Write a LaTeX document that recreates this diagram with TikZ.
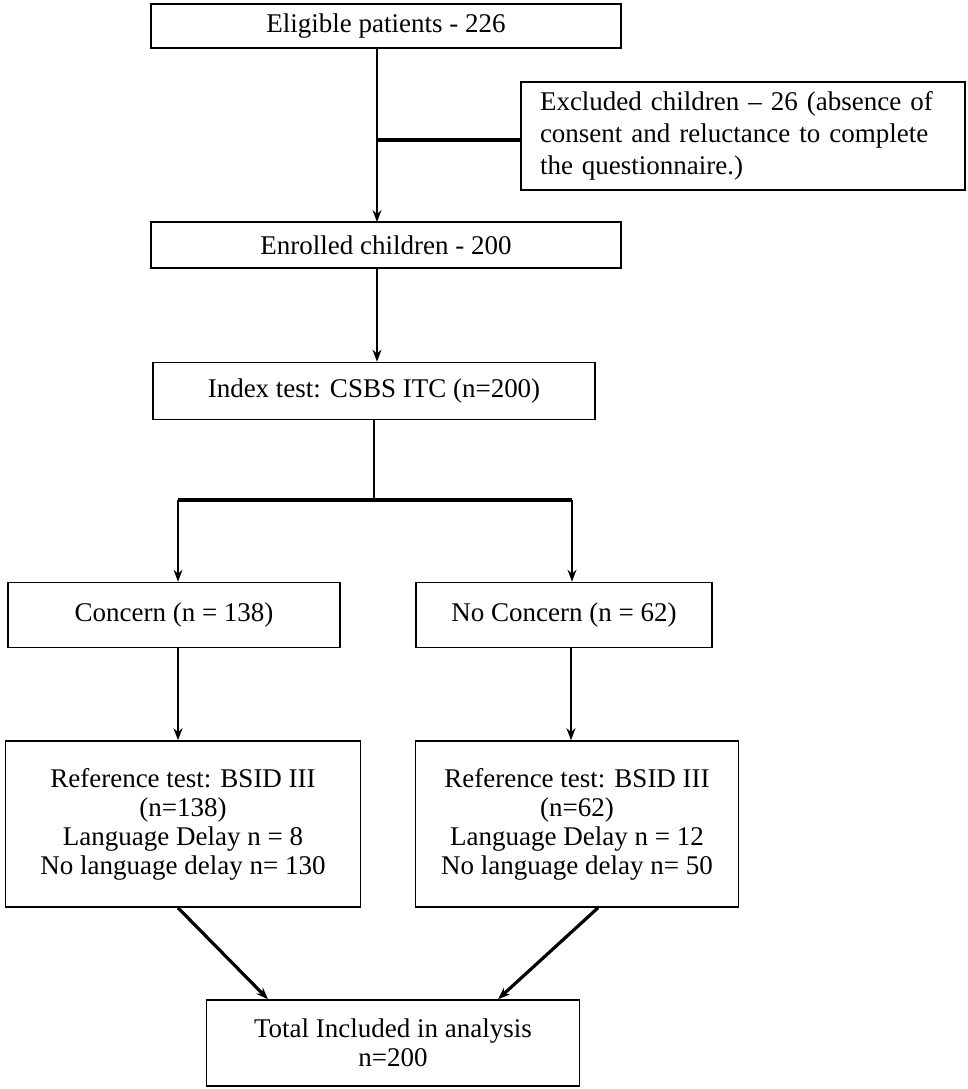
\documentclass[tikz,border=0pt]{standalone}
\usepackage{fontspec}
\setmainfont{Liberation Serif}
\usetikzlibrary{arrows.meta}
\tikzset{
  box/.style={draw, thick, align=center, inner sep=2pt, font=\fontsize{13.5}{14.5}\selectfont},
  flow/.style={-{Stealth[length=6pt]}, semithick},
  bar/.style={line width=1.6pt}
}
\begin{document}
\begin{tikzpicture}[x=0.5pt,y=-0.5pt]
            \useasboundingbox (0,0) rectangle (968,1089);
            \node[box, minimum width=235pt, minimum height=22pt](elig) at (386,26) {Eligible patients - 226};
            \node[box, minimum height=54pt, text width=203pt, inner xsep=9.5pt, align=left,
                  font=\fontsize{13.5}{16}\selectfont](excl) at (743,136) {Excluded children -- 26 (absence of consent and reluctance to complete the questionnaire.)};
            \node[box, minimum width=235pt, minimum height=23pt](enrol) at (386,245) {Enrolled children - 200};
            \node[box, minimum width=221pt, minimum height=28.5pt](index) at (374,391) {Index test: CSBS ITC (n=200)};
            \node[box, minimum width=166pt, minimum height=32.5pt](conc) at (174,615) {Concern (n = 138)};
            \node[box, minimum width=148pt, minimum height=32.5pt](nocon) at (564,615) {No Concern (n = 62)};
            \node[box, minimum width=177.5pt, minimum height=83pt](refl) at (183,824) {Reference test: BSID III\\(n=138)\\Language Delay n = 8\\No language delay n= 130};
            \node[box, minimum width=161.5pt, minimum height=83pt](refr) at (577,824) {Reference test: BSID III\\(n=62)\\Language Delay n = 12\\No language delay n= 50};
            \node[box, minimum width=186.5pt, minimum height=43pt](total) at (393,1043) {Total Included in analysis\\n=200};
            \coordinate (ex) at (377,140);
            \coordinate (split) at (374,500);
            \coordinate (sl) at (178,500);
            \coordinate (sr) at (572,500);
            \draw[flow] (377,48) -- (377,222);
            \draw[bar] (ex) -- (excl.west |- ex);
            \draw[flow] (enrol.south -| 377,0) -- (index.north -| 377,0);
            \draw[semithick] (index.south) -- (split);
            \draw[bar] (sl) -- (sr);
            \draw[flow] (sl) -- (conc.north -| sl);
            \draw[flow] (sr) -- (nocon.north -| sr);
            \draw[flow] (conc.south -| 178,0) -- (refl.north -| 178,0);
            \draw[flow] (nocon.south -| 571,0) -- (refr.north -| 571,0);
            \draw[flow, line width=1.6pt] (refl.south -| 178,0) -- (total.north -| 268,0);
            \draw[flow, line width=1.6pt] (refr.south -| 598,0) -- (total.north -| 498,0);
\end{tikzpicture}
\end{document}
